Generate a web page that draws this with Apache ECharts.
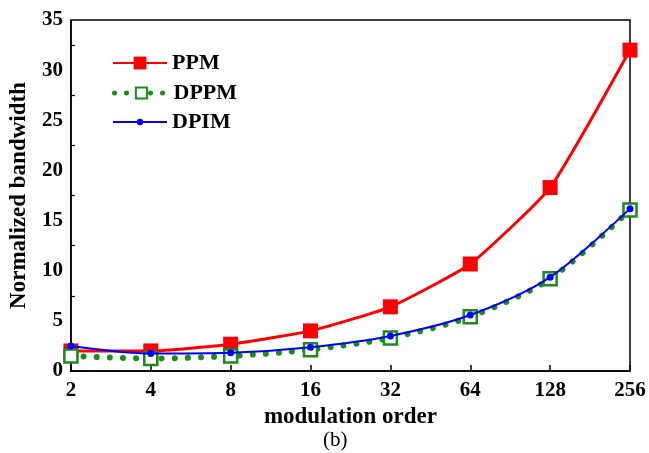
<!DOCTYPE html>
<html>
<head>
<meta charset="utf-8">
<script src="https://cdn.jsdelivr.net/npm/echarts@6/dist/echarts.min.js"></script>
<style>html,body{margin:0;padding:0;background:#fff}#chart{width:649px;height:453px}</style>
</head>
<body>
<div id="chart"></div>
<script>
// Modulation orders and normalized bandwidth of each scheme
const orders = ['2', '4', '8', '16', '32', '64', '128', '256'];
const ppm  = [2.0, 2.0, 2.67, 4.0, 6.4, 10.67, 18.29, 32.0];
const dppm = [1.5, 1.25, 1.5, 2.13, 3.3, 5.42, 9.21, 16.06];
const dpim = [2.5, 1.75, 1.83, 2.38, 3.5, 5.58, 9.36, 16.19];
const yTicks = [0, 5, 10, 15, 20, 25, 30, 35];

const font = '"Liberation Serif", "Times New Roman", serif';
const RED = '#ff0000', GREEN = '#1a8c1a', BLUE = '#0000ff';
const chart = echarts.init(document.getElementById('chart'), null, {renderer: 'canvas'});

// one legend block per series so each icon keeps its own marker size
function legendRow(name, centerY, iconH, lineStyle) {
  const row = {
    left: 107, top: centerY - 11, itemWidth: 54, itemHeight: iconH, itemGap: 6,
    textStyle: {fontFamily: font, fontWeight: 'bold', fontSize: 22, lineHeight: 22, color: '#000'},
    data: [name]
  };
  if (lineStyle) row.lineStyle = lineStyle;
  return row;
}

chart.setOption({
  animation: false,
  backgroundColor: '#fff',
  grid: {left: 70, top: 20, right: 19, bottom: 82, show: true, borderColor: '#000', borderWidth: 1.5, backgroundColor: 'transparent'},
  legend: [
    legendRow('PPM', 58, 16),
    legendRow('DPPM', 88, 14, {color: GREEN, width: 5, type: [0.01, 12], cap: 'round'}),
    legendRow('DPIM', 117, 8)
  ],
  title: {
    text: '(b)', left: 318, top: 425,
    textStyle: {fontFamily: font, fontWeight: 'normal', fontSize: 21, color: '#000'}
  },
  xAxis: {
    type: 'category', data: orders, boundaryGap: false,
    name: 'modulation order', nameLocation: 'middle', nameGap: 35,
    nameTextStyle: {fontFamily: font, fontWeight: 'bold', fontSize: 23, color: '#000'},
    axisLine: {lineStyle: {color: '#000', width: 1.5}},
    axisTick: {inside: true, length: 6, lineStyle: {color: '#000', width: 1.5}, alignWithLabel: true},
    axisLabel: {fontFamily: font, fontWeight: 'bold', fontSize: 21, color: '#000', margin: 9},
    splitLine: {show: false}
  },
  yAxis: {
    type: 'value', min: yTicks[0], max: yTicks[yTicks.length - 1], interval: 5,
    name: 'Normalized bandwidth', nameLocation: 'middle', nameGap: 38,
    nameTextStyle: {fontFamily: font, fontWeight: 'bold', fontSize: 23, color: '#000'},
    axisLine: {show: true, lineStyle: {color: '#000', width: 1.5}},
    axisTick: {inside: true, length: 6, lineStyle: {color: '#000', width: 1.5}},
    minorTick: {show: true, splitNumber: 2, length: 4, lineStyle: {color: '#000', width: 1.2}},
    axisLabel: {fontFamily: font, fontWeight: 'bold', fontSize: 21, color: '#000', margin: 8},
    splitLine: {show: false}
  },
  series: [
    {
      name: 'PPM', type: 'line', data: ppm, smooth: 0.15,
      symbol: 'rect', symbolSize: 15,
      lineStyle: {color: RED, width: 3},
      itemStyle: {color: RED}, z: 2
    },
    {
      name: 'DPPM', type: 'line', data: dppm, smooth: 0.3,
      symbol: 'rect', symbolSize: 13,
      lineStyle: {color: GREEN, width: 6, type: [0.01, 13], cap: 'round'},
      itemStyle: {color: '#fff', borderColor: GREEN, borderWidth: 2.5, borderType: 'solid'}, z: 3
    },
    {
      name: 'DPIM', type: 'line', data: dpim, smooth: 0.3,
      symbol: 'circle', symbolSize: 7,
      lineStyle: {color: BLUE, width: 2},
      itemStyle: {color: BLUE}, z: 4
    }
  ]
});
</script>
</body>
</html>
